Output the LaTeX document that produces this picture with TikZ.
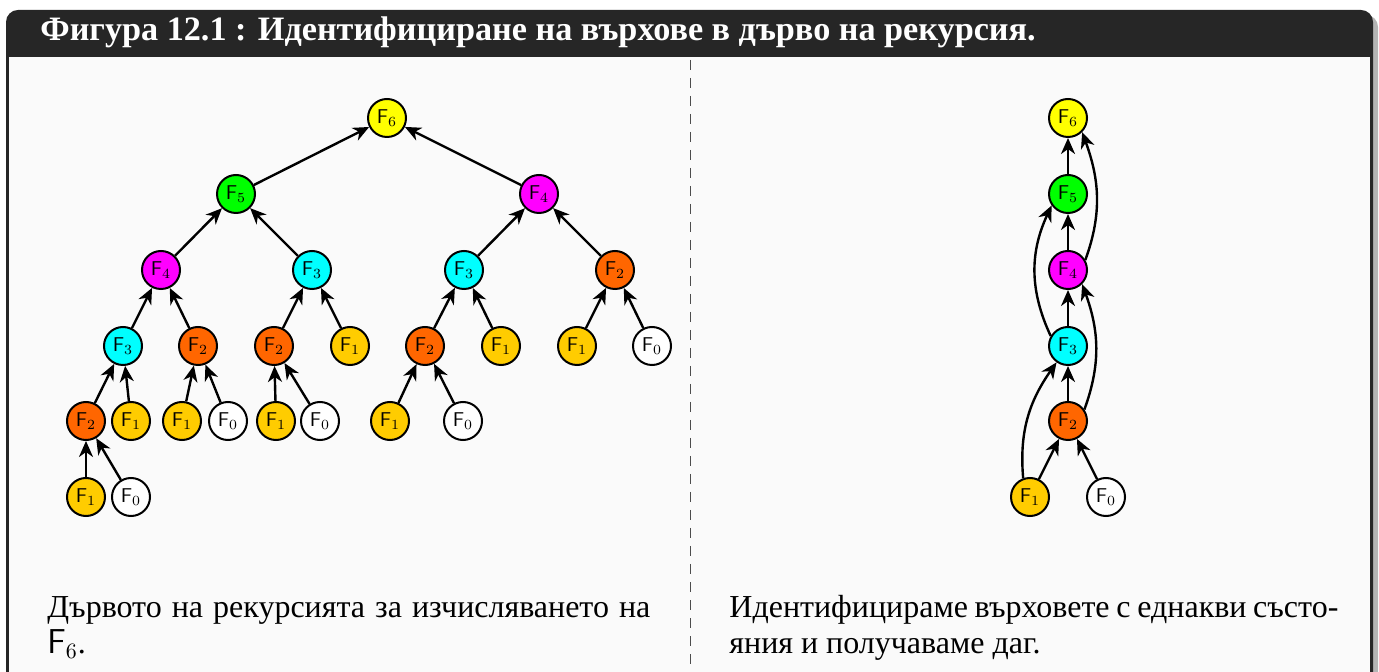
\documentclass[tikz,border=0pt]{standalone}
\usepackage[no-math]{fontspec}
\setmainfont{Liberation Serif}
\usepackage{xcolor}
\usetikzlibrary{arrows.meta}

\definecolor{fondo}{HTML}{FAFAFA}
\definecolor{marco}{HTML}{262626}
\definecolor{sombra}{HTML}{B4B4B4}
\definecolor{amarillo}{HTML}{FFFF00}
\definecolor{verde}{HTML}{00FF00}
\definecolor{fucsia}{HTML}{FF00FF}
\definecolor{celeste}{HTML}{00FFFF}
\definecolor{naranja}{HTML}{FF6600}
\definecolor{oro}{HTML}{FFCC00}
\newcommand{\fib}[1]{$\mathsf{F}_{#1}$}

\begin{document}
\begin{tikzpicture}[
  x=0.5pt, y=0.5pt,
  vert/.style={circle, draw, line width=1pt, minimum size=19pt, inner sep=0pt,
               font=\fontsize{10}{12}\selectfont},
  fseis/.style={vert, fill=amarillo},
  fcinco/.style={vert, fill=verde},
  fcuatro/.style={vert, fill=fucsia},
  ftres/.style={vert, fill=celeste},
  fdos/.style={vert, fill=naranja},
  funo/.style={vert, fill=oro},
  fcero/.style={vert, fill=white},
  flecha/.style={-{Stealth[length=8pt, width=7pt, inset=2.5pt]}, line width=1.2pt},
  texto/.style={anchor=base west, inner sep=0pt, font=\fontsize{16}{19}\selectfont}
]
\useasboundingbox (0,0) rectangle (1379,-672);
% marco
\fill[sombra, rounded corners=6pt] (10,-15) rectangle (1378,-700);
\fill[marco, rounded corners=6pt] (6,-10) rectangle (1373,-700);
\fill[fondo] (9,-57) rectangle (1370,-700);
\node[anchor=base west, inner sep=0pt, text=white, font=\bfseries\fontsize{17.1}{20}\selectfont]
  (titulo) at (40,-41) {Фигура 12.1 : Идентифициране на върхове в дърво на рекурсия.};
\draw[black!70, line width=0.5pt, dash pattern=on 5pt off 4pt] (690,-60) -- (690,-672);

% arbol de recursion
\node[fseis] (r) at (387,-118) {\fib{6}};
\node[fcinco] (a) at (236,-194) {\fib{5}};
\node[fcuatro] (b) at (539,-194) {\fib{4}};
\node[fcuatro] (aa) at (161,-270) {\fib{4}};
\node[ftres] (ab) at (312,-270) {\fib{3}};
\node[ftres] (ba) at (464,-270) {\fib{3}};
\node[fdos] (bb) at (615,-270) {\fib{2}};
\node[ftres] (aaa) at (123,-346) {\fib{3}};
\node[fdos] (aab) at (198,-346) {\fib{2}};
\node[fdos] (aba) at (274,-346) {\fib{2}};
\node[funo] (abb) at (350,-346) {\fib{1}};
\node[fdos] (baa) at (425,-346) {\fib{2}};
\node[funo] (bab) at (501,-346) {\fib{1}};
\node[funo] (bba) at (577,-346) {\fib{1}};
\node[fcero] (bbb) at (652,-346) {\fib{0}};
\node[fdos] (aaaa) at (86,-421) {\fib{2}};
\node[funo] (aaab) at (131,-421) {\fib{1}};
\node[funo] (aaba) at (182,-421) {\fib{1}};
\node[fcero] (aabb) at (228,-421) {\fib{0}};
\node[funo] (abaa) at (276,-421) {\fib{1}};
\node[fcero] (abab) at (320,-421) {\fib{0}};
\node[funo] (baaa) at (390,-421) {\fib{1}};
\node[fcero] (baab) at (463,-421) {\fib{0}};
\node[funo] (aaaaa) at (86,-497) {\fib{1}};
\node[fcero] (aaaab) at (131,-497) {\fib{0}};

\draw[flecha] (a) -- (r);
\draw[flecha] (b) -- (r);
\draw[flecha] (aa) -- (a);
\draw[flecha] (ab) -- (a);
\draw[flecha] (ba) -- (b);
\draw[flecha] (bb) -- (b);
\draw[flecha] (aaa) -- (aa);
\draw[flecha] (aab) -- (aa);
\draw[flecha] (aba) -- (ab);
\draw[flecha] (abb) -- (ab);
\draw[flecha] (baa) -- (ba);
\draw[flecha] (bab) -- (ba);
\draw[flecha] (bba) -- (bb);
\draw[flecha] (bbb) -- (bb);
\draw[flecha] (aaaa) -- (aaa);
\draw[flecha] (aaab) -- (aaa);
\draw[flecha] (aaba) -- (aab);
\draw[flecha] (aabb) -- (aab);
\draw[flecha] (abaa) -- (aba);
\draw[flecha] (abab) -- (aba);
\draw[flecha] (baaa) -- (baa);
\draw[flecha] (baab) -- (baa);
\draw[flecha] (aaaaa) -- (aaaa);
\draw[flecha] (aaaab) -- (aaaa);

% dag
\node[fseis] (d6) at (1068,-118) {\fib{6}};
\node[fcinco] (d5) at (1068,-194) {\fib{5}};
\node[fcuatro] (d4) at (1068,-270) {\fib{4}};
\node[ftres] (d3) at (1068,-346) {\fib{3}};
\node[fdos] (d2) at (1068,-421) {\fib{2}};
\node[funo] (d1) at (1030,-497) {\fib{1}};
\node[fcero] (d0) at (1106,-497) {\fib{0}};

\draw[flecha] (d5) -- (d6);
\draw[flecha] (d4) -- (d5);
\draw[flecha] (d3) -- (d4);
\draw[flecha] (d2) -- (d3);
\draw[flecha] (d1) -- (d2);
\draw[flecha] (d0) -- (d2);
\draw[flecha] (d1.110) to[out=95, in=-125] (d3.-125);
\draw[flecha] (d3.150) to[out=115, in=-115] (d5.-145);
\draw[flecha] (d2.35) to[out=70, in=-70] (d4.-45);
\draw[flecha] (d4.30) to[out=70, in=-70] (d6.-45);

% textos
\node[texto] (izq1) at (47,-617) {\makebox[301.5pt][s]{Дървото на рекурсията за изчисляването на}};
\node[texto] (izq2) at (47,-653) {\fib{6}.};
\node[texto] (der1) at (729,-617) {\makebox[304.5pt][s]{Идентифицираме върховете с еднакви състо-}};
\node[texto] (der2) at (729,-653) {яния и получаваме даг.};
\end{tikzpicture}
\end{document}
